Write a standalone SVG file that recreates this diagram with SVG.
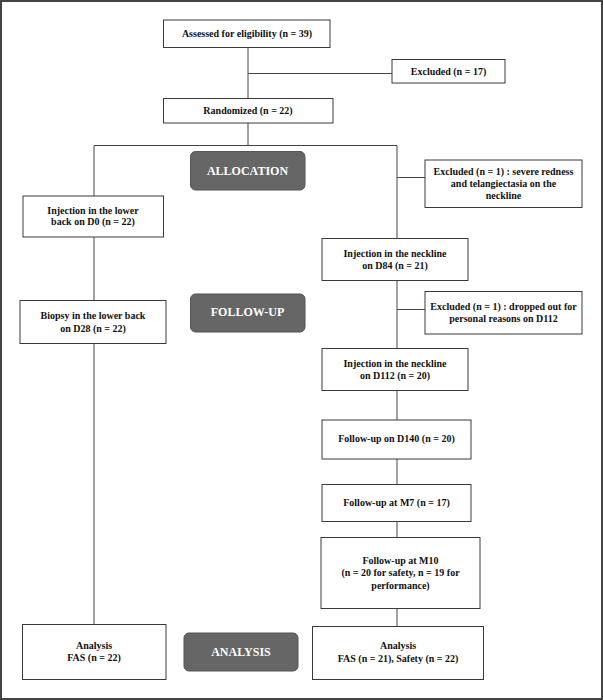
<svg xmlns="http://www.w3.org/2000/svg" width="603" height="700" viewBox="0 0 603 700">
<style>
.box{fill:#fff;stroke:#3a3a3a;stroke-width:1}
.stage{fill:#666;stroke:#555;stroke-width:1}
.t{font-family:"Liberation Serif","Times New Roman",serif;font-weight:bold;font-size:10px;fill:#111;text-anchor:middle}
.s{font-family:"Liberation Serif","Times New Roman",serif;font-weight:bold;font-size:12px;fill:#fff;text-anchor:middle}
.c{stroke:#444;stroke-width:1;fill:none}
</style>
<rect x="1" y="1" width="601" height="698" fill="#fff" stroke="#444" stroke-width="2"/>
<g id="connectors">
<path class="c" d="M248 47.5V98.5M248 73.5H392M248 123V145.5M94 145.5H397M94 145.5V196M397 145.5V238.5M397 177.5H425M94 237V300.5M94 343.5V624.5M397 280.5V348.5M397 309.5H425M397 390.5V420M397 459V484.5M397 521.5V537.5M397 608.5V626.5"/>
</g>
<g id="assessed"><rect class="box" x="163.5" y="20" width="166.5" height="27.5"/><text class="t" x="247" y="37">Assessed for eligibility (n = 39)</text></g>
<g id="excluded17"><rect class="box" x="392" y="59.5" width="113" height="23.5"/><text class="t" x="448.5" y="74.5">Excluded (n = 17)</text></g>
<g id="randomized"><rect class="box" x="163.5" y="98.5" width="169.5" height="24.5"/><text class="t" x="248" y="114">Randomized (n = 22)</text></g>
<g id="allocation"><rect class="stage" x="190.5" y="151.5" width="114.5" height="38.5" rx="5"/><text class="s" x="247.5" y="174.5">ALLOCATION</text></g>
<g id="excluded-redness"><rect class="box" x="425" y="160" width="157" height="47.5"/><text class="t" x="503.5" y="174.5">Excluded (n = 1) : severe redness</text><text class="t" x="503.5" y="186.5">and telangiectasia on the</text><text class="t" x="503.5" y="198.5">neckline</text></g>
<g id="inj-lowerback"><rect class="box" x="23" y="196" width="140.5" height="41"/><text class="t" x="93" y="213.5">Injection in the lower</text><text class="t" x="93" y="225">back on D0 (n = 22)</text></g>
<g id="inj-d84"><rect class="box" x="322" y="238.5" width="146" height="42"/><text class="t" x="395" y="256.5">Injection in the neckline</text><text class="t" x="395" y="268.5">on D84 (n = 21)</text></g>
<g id="excluded-dropped"><rect class="box" x="425" y="291.5" width="157" height="42.5"/><text class="t" x="503.5" y="309.5">Excluded (n = 1) : dropped out for</text><text class="t" x="503.5" y="321.5">personal reasons on D112</text></g>
<g id="biopsy"><rect class="box" x="20" y="300.5" width="146" height="43"/><text class="t" x="93" y="319">Biopsy in the lower back</text><text class="t" x="93" y="331.5">on D28 (n = 22)</text></g>
<g id="followup-stage"><rect class="stage" x="190.5" y="294" width="114.5" height="38" rx="5"/><text class="s" x="247.5" y="316">FOLLOW-UP</text></g>
<g id="inj-d112"><rect class="box" x="322" y="348.5" width="146" height="42"/><text class="t" x="395" y="366.5">Injection in the neckline</text><text class="t" x="395" y="378.5">on D112 (n = 20)</text></g>
<g id="fu-d140"><rect class="box" x="322" y="420" width="149" height="39"/><text class="t" x="396.5" y="442">Follow-up on D140 (n = 20)</text></g>
<g id="fu-m7"><rect class="box" x="322" y="484.5" width="149" height="37"/><text class="t" x="396.5" y="505.5">Follow-up at M7 (n = 17)</text></g>
<g id="fu-m10"><rect class="box" x="321" y="537.5" width="159" height="71"/><text class="t" x="400.5" y="563.5">Follow-up at M10</text><text class="t" x="400.5" y="576">(n = 20 for safety, n = 19 for</text><text class="t" x="400.5" y="588.5">performance)</text></g>
<g id="analysis-left"><rect class="box" x="22.5" y="624.5" width="143.5" height="55"/><text class="t" x="94" y="648.5">Analysis</text><text class="t" x="94" y="660.5">FAS (n = 22)</text></g>
<g id="analysis-stage"><rect class="stage" x="184" y="633" width="114" height="38" rx="5"/><text class="s" x="241" y="655.5">ANALYSIS</text></g>
<g id="analysis-right"><rect class="box" x="312.5" y="626.5" width="171" height="53"/><text class="t" x="398" y="649">Analysis</text><text class="t" x="398" y="661.5">FAS (n = 21), Safety (n = 22)</text></g>
</svg>
